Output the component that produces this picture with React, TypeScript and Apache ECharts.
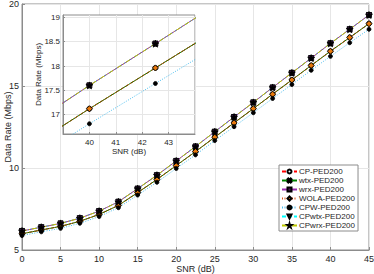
import React, { useEffect, useRef } from "react";
import * as echarts from "echarts";

const snr = [0, 2.5, 5, 7.5, 10, 12.5, 15, 17.5, 20, 22.5, 25, 27.5, 30, 32.5, 35, 37.5, 40, 42.5, 45];
const midRate = [5.99, 6.22, 6.44, 6.75, 7.17, 7.72, 8.5, 9.3, 10.15, 11.0, 11.88, 12.75, 13.62, 14.5, 15.37, 16.25, 17.12, 17.96, 18.8];
const topRate = [6.16, 6.39, 6.62, 6.94, 7.37, 7.94, 8.74, 9.56, 10.43, 11.31, 12.21, 13.11, 14.0, 14.91, 15.8, 16.7, 17.6, 18.46, 19.33];
const lowRate = [5.88, 6.11, 6.32, 6.63, 7.04, 7.58, 8.35, 9.13, 9.97, 10.8, 11.67, 12.52, 13.37, 14.24, 15.09, 15.96, 16.81, 17.64, 18.46];
const seriesNames = ["CP-PED200", "wtx-PED200", "wrx-PED200", "WOLA-PED200", "CPW-PED200", "CPwtx-PED200", "CPwrx-PED200"];
const mainYTicks = [5, 10, 15, 20];
const insetYTicks = [17, 17.5, 18, 18.5, 19];

const STAR = "path://M50,0 L61,35 L98,35 L68,57 L79,91 L50,70 L21,91 L32,57 L2,35 L39,35 Z";
const XMARK = "path://M0,2 L2,0 L5,3 L8,0 L10,2 L7,5 L10,8 L8,10 L5,7 L2,10 L0,8 L3,5 Z";

const FONT = "Liberation Sans";

type Spec = {
  name: string;
  data: number[];
  color: string;
  type: any;
  width: number;
  symbol: string;
  size: number;
  fill: string;
  edge: string;
  rotate?: number;
  zOff: number;
};

const specs: Spec[] = [
  { name: seriesNames[0], data: midRate, color: "#ff0000", type: [4, 2], width: 1, symbol: "circle", size: 5, fill: "#ffffff", edge: "#000000", zOff: 0 },
  { name: seriesNames[1], data: midRate, color: "#008000", type: "solid", width: 1, symbol: XMARK, size: 4, fill: "#000000", edge: "#000000", zOff: 0 },
  { name: seriesNames[2], data: topRate, color: "#9b2fae", type: "solid", width: 1, symbol: "rect", size: 5, fill: "#4a1a55", edge: "#000000", zOff: 0 },
  { name: seriesNames[3], data: midRate, color: "#D95319", type: [1, 1.5], width: 1, symbol: "diamond", size: 6, fill: "#E8790C", edge: "#000000", zOff: 0 },
  { name: seriesNames[4], data: lowRate, color: "#4DBEEE", type: [1, 1.5], width: 1, symbol: "circle", size: 4, fill: "#000000", edge: "#000000", zOff: 0 },
  { name: seriesNames[5], data: topRate, color: "#00ffff", type: [4, 2], width: 1, symbol: "triangle", size: 5, fill: "#007f7f", edge: "#000000", rotate: 180, zOff: -1 },
  { name: seriesNames[6], data: topRate, color: "#bcc800", type: [5, 2, 1, 2], width: 1, symbol: STAR, size: 7, fill: "#000000", edge: "#000000", zOff: 0 },
];

function buildSeries(axisIndex: number, z: number) {
  return specs.map((s) => ({
    name: s.name,
    type: "line",
    xAxisIndex: axisIndex,
    yAxisIndex: axisIndex,
    data: snr.map((x, i) => [x, s.data[i]]),
    showSymbol: true,
    symbol: s.symbol,
    symbolSize: s.size,
    symbolRotate: s.rotate || 0,
    clip: true,
    z: z + s.zOff,
    lineStyle: { color: s.color, width: s.width, type: s.type },
    itemStyle: { color: s.fill, borderColor: s.edge, borderWidth: 0.8 },
    emphasis: { disabled: true },
  }));
}

export default function App() {
  const ref = useRef<HTMLDivElement>(null);
  useEffect(() => {
    if (!ref.current) return;
    const chart = echarts.init(ref.current, undefined, { renderer: "svg" });
    const axisLine = { show: true, lineStyle: { color: "#8c8c8c", width: 1 } };
    const split = { show: true, lineStyle: { color: "#e6e6e6", width: 1 } };
    const label = { color: "#262626", fontSize: 9, fontFamily: FONT };
    const insetLabel = { color: "#262626", fontSize: 8, fontFamily: FONT };
    chart.setOption({
      animation: false,
      backgroundColor: "#ffffff",
      textStyle: { fontFamily: FONT },
      grid: [
        { left: 22, right: 5, top: 4, bottom: 24, show: true, borderColor: "#8c8c8c", borderWidth: 1, backgroundColor: "#ffffff", z: 0, outerBoundsMode: "none", containLabel: false },
        { left: 63, right: 179, top: 15, bottom: 140, show: true, borderColor: "#8c8c8c", borderWidth: 1, backgroundColor: "#ffffff", z: 3, outerBoundsMode: "none", containLabel: false },
      ],
      xAxis: [
        {
          type: "value", gridIndex: 0, min: 0, max: 45, interval: 5,
          name: "SNR (dB)", nameLocation: "middle", nameGap: 14, nameMoveOverlap: false,
          nameTextStyle: { color: "#262626", fontSize: 9, fontFamily: FONT },
          axisLine, axisTick: { show: true, inside: true, length: 3, lineStyle: { color: "#8c8c8c" } },
          axisLabel: { ...label, margin: 4 }, splitLine: split,
        },
        {
          type: "value", gridIndex: 1, min: 39, max: 44, interval: 1, z: 4,
          name: "SNR (dB)", nameLocation: "middle", nameGap: 13, nameMoveOverlap: false,
          nameTextStyle: { color: "#262626", fontSize: 8, fontFamily: FONT },
          axisLine, axisTick: { show: true, inside: true, length: 2, lineStyle: { color: "#8c8c8c" } },
          axisLabel: { ...insetLabel, margin: 4, showMinLabel: false, showMaxLabel: false }, splitLine: split,
        },
      ],
      yAxis: [
        {
          type: "value", gridIndex: 0, min: mainYTicks[0], max: mainYTicks[mainYTicks.length - 1], interval: 5,
          name: "Data Rate (Mbps)", nameLocation: "middle", nameGap: 10, nameMoveOverlap: false,
          nameTextStyle: { color: "#262626", fontSize: 9, fontFamily: FONT },
          axisLine, axisTick: { show: true, inside: true, length: 3, lineStyle: { color: "#8c8c8c" } },
          axisLabel: { ...label, margin: 3 }, splitLine: split,
        },
        {
          type: "value", gridIndex: 1, min: 16.6, max: 19.05, z: 4,
          name: "Data Rate (Mbps)", nameLocation: "middle", nameGap: 21, nameMoveOverlap: false,
          nameTextStyle: { color: "#262626", fontSize: 8, fontFamily: FONT },
          axisLine, axisTick: { show: true, inside: true, length: 2, lineStyle: { color: "#8c8c8c" }, customValues: insetYTicks },
          axisLabel: { ...insetLabel, margin: 3, customValues: insetYTicks }, splitLine: split,
        },
      ],
      legend: {
        orient: "vertical",
        left: 279, top: 165,
        data: seriesNames,
        itemWidth: 15, itemHeight: 5, itemGap: 0,
        padding: [2, 3, 1, 2],
        borderColor: "#8c8c8c", borderWidth: 1, backgroundColor: "#ffffff",
        textStyle: { color: "#262626", fontSize: 8, lineHeight: 9, fontFamily: FONT, padding: [0, 0, 0, -3] },
        selectedMode: false,
        z: 10,
      },
      series: [...buildSeries(0, 2), ...buildSeries(1, 5)],
    });
    return () => chart.dispose();
  }, []);
  return <div ref={ref} style={{ width: 374, height: 274, position: "absolute", left: 0, top: 0 }} />;
}
